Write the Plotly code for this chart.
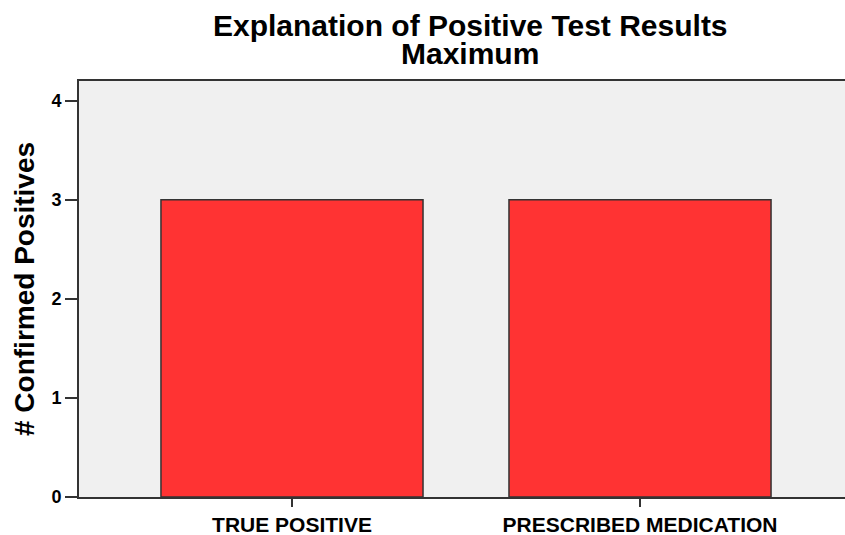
import plotly.graph_objects as go

categories = ["TRUE POSITIVE", "PRESCRIBED MEDICATION"]
counts = [3, 3]
y_ticks = [0, 1, 2, 3, 4]
title_lines = ["Explanation of Positive Test Results", "Maximum"]

FONT = "Arial, Liberation Sans, sans-serif"
W, H = 845, 535
L, R, T, B = 79, 0, 81, 38
plot_w = W - L - R
plot_h = H - T - B


def px_x(x):
    return (x - L) / plot_w


def px_y(y):
    return (H - B - y) / plot_h


fig = go.Figure(
    go.Bar(
        x=categories,
        y=counts,
        marker=dict(color="#ff3333", line=dict(color="#333333", width=1.5)),
        hoverinfo="x+y",
    )
)

fig.update_layout(
    width=W,
    height=H,
    margin=dict(l=L, r=R, t=T, b=B),
    paper_bgcolor="white",
    plot_bgcolor="#f0f0f0",
    bargap=0.247,
    showlegend=False,
)

# title lines as annotations, so the line spacing can be set
for text, y_center in zip(title_lines, [25, 54]):
    fig.add_annotation(
        text=f"<b>{text}</b>",
        xref="paper", yref="paper",
        x=px_x(470), y=px_y(y_center),
        xanchor="center", yanchor="middle",
        showarrow=False,
        font=dict(family=FONT, size=30, color="black"),
    )

# y-axis title
fig.add_annotation(
    text="<b># Confirmed Positives</b>",
    xref="paper", yref="paper",
    x=px_x(24), y=0.5,
    xanchor="center", yanchor="middle",
    textangle=-90,
    showarrow=False,
    font=dict(family=FONT, size=28, color="black"),
)

fig.update_xaxes(
    range=[-0.612, 1.589],
    showline=True,
    linecolor="#333333",
    linewidth=2,
    mirror=True,
    ticks="outside",
    ticklen=8,
    tickwidth=2,
    tickcolor="#333333",
    tickfont=dict(family=FONT, size=21, color="black", weight="bold"),
    showgrid=False,
)

fig.update_yaxes(
    range=[0, 4.2],
    tickvals=y_ticks,
    showline=True,
    linecolor="#333333",
    linewidth=2,
    ticks="outside",
    ticklen=12,
    tickwidth=2,
    tickcolor="#333333",
    tickfont=dict(family=FONT, size=18, color="black", weight="bold"),
    showgrid=False,
    zeroline=False,
)

fig.write_html(
    "out.html",
    config={"displayModeBar": False},
    post_script="document.body.style.margin='0';document.body.style.overflow='hidden';",
)
